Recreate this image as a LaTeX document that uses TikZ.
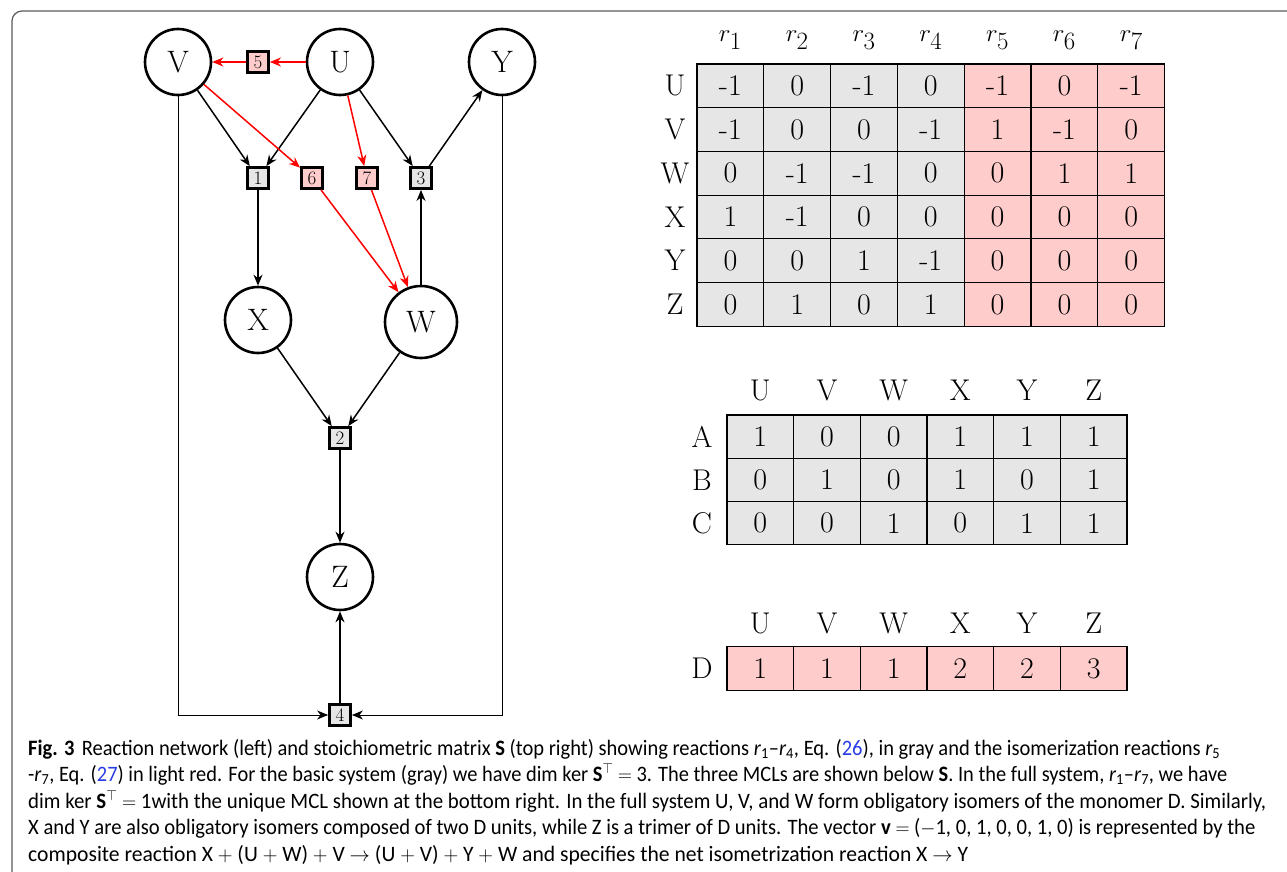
\documentclass[tikz,border=0pt]{standalone}
\usepackage{fontspec}
\usepackage{graphicx}
\usetikzlibrary{arrows.meta}
\newfontfamily\capfont{Carlito}
\definecolor{grayfill}{RGB}{230,230,230}
\definecolor{redfill}{RGB}{255,204,204}
\definecolor{citeblue}{RGB}{40,60,230}
\definecolor{framegray}{RGB}{90,90,90}
\newcommand{\rxr}[1]{\textit{r}\textsubscript{#1}}
\newlength\capwd
\newcommand{\fitto}[2]{\settowidth{\capwd}{#2}\pgfmathsetmacro\capsc{#1/\capwd}\scalebox{\capsc}[1]{#2}}
\tikzset{
  species/.style={circle, draw, line width=2.6pt, minimum size=66pt, inner sep=0pt, font=\fontsize{31}{36}\selectfont},
  rxn/.style={rectangle, draw, line width=2.8pt, minimum size=21pt, inner sep=0pt, fill=grayfill, font=\fontsize{19}{22}\selectfont},
  rxnred/.style={rxn, fill=redfill},
  edge/.style={line width=1.5pt, -{Stealth[length=11pt,width=9pt,inset=3.5pt]}},
  rededge/.style={edge, red},
  sideedge/.style={edge, line width=1pt},
  cell/.style={draw, line width=1.1pt, minimum width=66.8pt, minimum height=43.7pt, inner sep=0pt, font=\fontsize{30}{34}\selectfont},
  lab/.style={inner sep=0pt, font=\fontsize{30}{34}\selectfont},
  capline/.style={anchor=base west, inner sep=0pt, font=\capfont\fontsize{22}{26}\selectfont},
}
\begin{document}
\begin{tikzpicture}[x=1pt, y=-1pt]
  \useasboundingbox (0,0) rectangle (1287,872);
  \draw[framegray, line width=1.2pt, rounded corners=10pt] (12,872) -- (12,11) -- (1287,11);
  % network
  \node[species] (V) at (178,62) {V};
  \node[species] (U) at (340,62) {U};
  \node[species] (Y) at (502,62) {Y};
  \node[rxnred] (r5) at (258,62) {5};
  \node[rxn] (r1) at (258,178) {1};
  \node[rxnred] (r6) at (312,178) {6};
  \node[rxnred] (r7) at (367,178) {7};
  \node[rxn] (r3) at (421,178) {3};
  \node[species] (X) at (258,320) {X};
  \node[species, minimum size=72pt] (W) at (421,322) {W};
  \node[rxn] (r2) at (340,438) {2};
  \node[species] (Z) at (340,577) {Z};
  \node[rxn] (r4) at (340,715) {4};
  \draw[edge] (V) -- (r1);
  \draw[edge] (U) -- (r1);
  \draw[edge] (U) -- (r3);
  \draw[edge] (r3) -- (Y);
  \draw[edge] (r1) -- (X);
  \draw[edge] (W) -- (r3);
  \draw[edge] (X) -- (r2);
  \draw[edge] (W) -- (r2);
  \draw[edge] (r2) -- (Z);
  \draw[edge] (r4) -- (Z);
  \draw[sideedge] (V) |- (r4);
  \draw[sideedge] (Y) |- (r4);
  \draw[rededge, line width=2.4pt] (U) -- (r5);
  \draw[rededge, line width=2.4pt] (r5) -- (V);
  \draw[rededge] (V) -- (r6);
  \draw[rededge] (U) -- (r7);
  \draw[rededge] (r6) -- (W);
  \draw[rededge] (r7) -- (W);
  % stoichiometric matrix
  \foreach \j in {1,...,7}
    \node[lab, font=\fontsize{34}{38}\selectfont] (sh\j) at ({697+66.8*\j-33.4},40) {$r_{\j}$};
  \foreach \lab/\vals [count=\i] in {U/{-1,0,-1,0,-1,0,-1}, V/{-1,0,0,-1,1,-1,0}, W/{0,-1,-1,0,0,1,1},
      X/{1,-1,0,0,0,0,0}, Y/{0,0,1,-1,0,0,0}, Z/{0,1,0,1,0,0,0}}{
    \node[lab] (sl\i) at (675,{64+43.7*\i-21.85}) {\lab};
    \foreach \v [count=\j] in \vals {
      \ifnum\j>4 \def\cc{redfill}\else\def\cc{grayfill}\fi
      \node[cell, fill=\cc] (s\i-\j) at ({697+66.8*\j-33.4},{64+43.7*\i-21.85}) {\v};
    }
  }
  % MCLs
  \foreach \h [count=\j] in {U,V,W,X,Y,Z}{
    \node[lab] (mh\j) at ({727+66.67*\j-33.33},390) {\h};
    \node[lab] (dh\j) at ({727+66.67*\j-33.33},623) {\h};
  }
  \foreach \lab/\vals [count=\i] in {A/{1,0,0,1,1,1}, B/{0,1,0,1,0,1}, C/{0,0,1,0,1,1}}{
    \node[lab] (ml\i) at (702,{415+43.3*\i-21.65}) {\lab};
    \foreach \v [count=\j] in \vals
      \node[cell, minimum width=66.67pt, minimum height=43.3pt, fill=grayfill] (m\i-\j) at ({727+66.67*\j-33.33},{415+43.3*\i-21.65}) {\v};
  }
  \node[lab] (dl) at (702,668.5) {D};
  \foreach \v [count=\j] in {1,1,1,2,2,3}
    \node[cell, minimum width=66.67pt, fill=redfill] (d\j) at ({727+66.67*\j-33.33},668.5) {\v};
  % caption
  \node[capline] (cap1) at (28,755) {\fitto{1192}{\textbf{Fig. 3}\hspace{8pt}Reaction network (left) and stoichiometric matrix \textbf{S} (top right) showing reactions \rxr{1}\textendash\rxr{4}, Eq. (\textcolor{citeblue}{26}), in gray and the isomerization reactions \rxr{5}}};
  \node[capline] (cap2) at (28,781.5) {\fitto{1199}{-\rxr{7}, Eq. (\textcolor{citeblue}{27}) in light red. For the basic system (gray) we have dim ker \textbf{S}$^{\top}$ $=$ 3. The three MCLs are shown below \textbf{S}. In the full system, \rxr{1}\textendash\rxr{7}, we have}};
  \node[capline] (cap3) at (28,808) {\fitto{1238}{dim ker \textbf{S}$^{\top}$ $=$ 1with the unique MCL shown at the bottom right. In the full system U, V, and W form obligatory isomers of the monomer D. Similarly,}};
  \node[capline] (cap4) at (28,834.5) {\fitto{1227}{X and Y are also obligatory isomers composed of two D units, while Z is a trimer of D units. The vector \textbf{v} $=$ ($-$1, 0, 1, 0, 0, 1, 0) is represented by the}};
  \node[capline] (cap5) at (28,861) {\fitto{940}{composite reaction X $+$ (U $+$ W) $+$ V $\rightarrow$ (U $+$ V) $+$ Y $+$ W and specifies the net isometrization reaction X $\rightarrow$ Y}};
\end{tikzpicture}
\end{document}
